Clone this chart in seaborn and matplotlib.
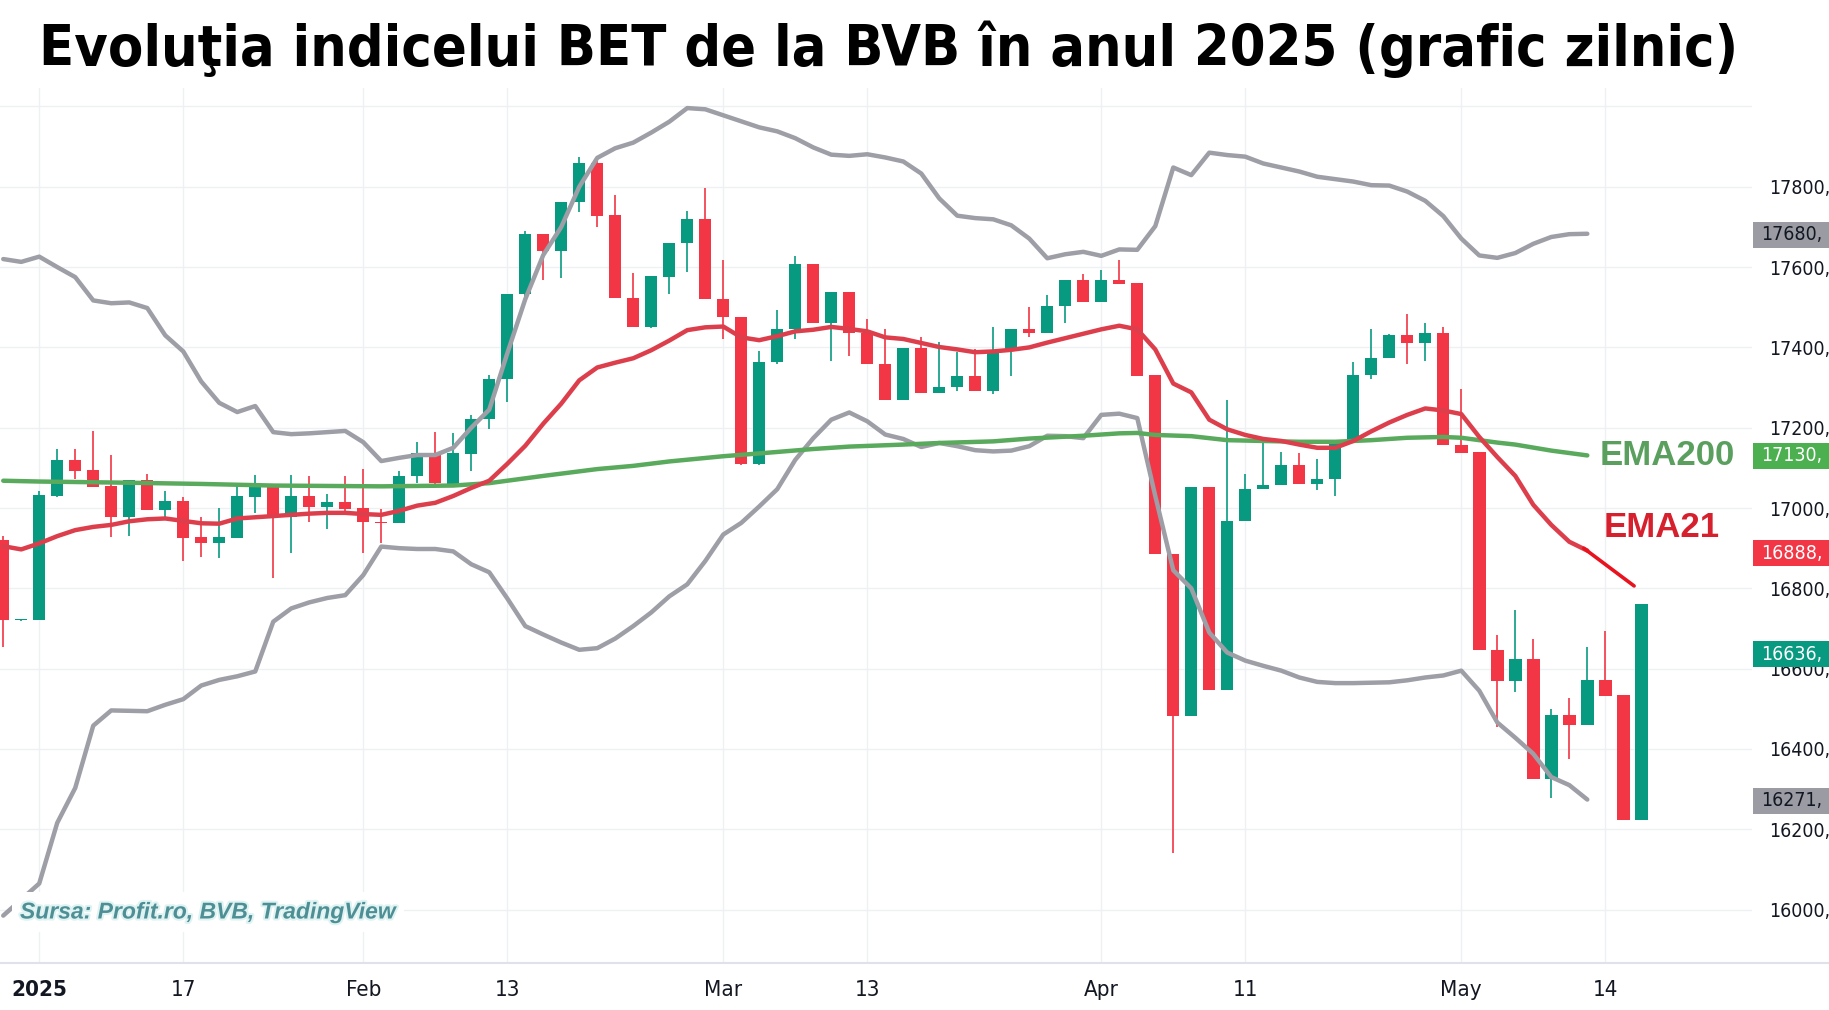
import numpy as np
import pandas as pd
import matplotlib
matplotlib.use("Agg")
import matplotlib.pyplot as plt
import matplotlib.transforms as mtransforms
from matplotlib.patches import Rectangle
from matplotlib.lines import Line2D
from matplotlib import font_manager
from matplotlib.font_manager import FontProperties
import matplotlib.patheffects as pe
import seaborn as sns

# ---------------- data ----------------
bar_idx = list(range(-2, 90))
opens = [16920, 16720, 16721, 17031, 17119, 17095, 17055, 16978, 17070, 16995,
         17017, 16927, 16914, 16926, 17028, 17061, 16977, 17030, 17003, 17014,
         16999, 16966, 16963, 17079, 17138, 17061, 17135, 17221, 17321, 17532,
         17683, 17640, 17761, 17858, 17729, 17523, 17450, 17575, 17661, 17721,
         17521, 17475, 17110, 17363, 17446, 17607, 17462, 17538, 17435, 17359,
         17269, 17398, 17286, 17302, 17330, 17291, 17394, 17445, 17437, 17503,
         17569, 17512, 17567, 17560, 17331, 16885, 16483, 17053, 16547, 16968,
         17047, 17058, 17107, 17061, 17072, 17169, 17331, 17374, 17431, 17410,
         17436, 17156, 17139, 16647, 16569, 16623, 16326, 16485, 16460, 16572,
         16534, 16222]
highs = [16930, 16723, 17043, 17147, 17147, 17192, 17132, 17070, 17084, 17042,
         17028, 16978, 17001, 17055, 17082, 17061, 17082, 17080, 17035, 17080,
         17096, 16997, 17093, 17165, 17190, 17186, 17231, 17331, 17532, 17689,
         17683, 17761, 17873, 17873, 17779, 17586, 17578, 17661, 17739, 17798,
         17618, 17475, 17392, 17492, 17628, 17607, 17538, 17538, 17470, 17445,
         17398, 17427, 17414, 17388, 17396, 17450, 17445, 17501, 17530, 17569,
         17584, 17592, 17617, 17560, 17331, 16885, 17053, 17053, 17270, 17084,
         17177, 17139, 17137, 17122, 17169, 17364, 17445, 17433, 17483, 17462,
         17452, 17296, 17139, 16685, 16747, 16675, 16500, 16528, 16654, 16694,
         16534, 16761]
lows = [16655, 16719, 16721, 17028, 17072, 17053, 16929, 16930, 16995, 16978,
        16868, 16879, 16875, 16926, 16987, 16825, 16889, 16966, 16949, 16991,
        16889, 16914, 16963, 17063, 17061, 17061, 17092, 17196, 17265, 17517,
        17569, 17572, 17737, 17700, 17522, 17450, 17448, 17533, 17588, 17521,
        17421, 17108, 17108, 17358, 17421, 17462, 17365, 17379, 17359, 17269,
        17269, 17286, 17286, 17291, 17291, 17284, 17330, 17426, 17437, 17462,
        17512, 17512, 17559, 17328, 16885, 16141, 16483, 16547, 16547, 16968,
        17047, 17058, 17061, 17046, 17030, 17169, 17321, 17374, 17359, 17365,
        17156, 17137, 16647, 16455, 16542, 16326, 16279, 16374, 16460, 16531,
        16222, 16222]
closes = [16720, 16722, 17032, 17119, 17093, 17053, 16978, 17070, 16995, 17017,
          16926, 16914, 16927, 17030, 17061, 16978, 17030, 17003, 17014, 16997,
          16966, 16963, 17080, 17138, 17062, 17137, 17221, 17321, 17532, 17683,
          17640, 17761, 17858, 17727, 17522, 17450, 17577, 17661, 17721, 17521,
          17475, 17110, 17364, 17446, 17608, 17462, 17538, 17435, 17359, 17269,
          17398, 17286, 17302, 17330, 17291, 17394, 17445, 17437, 17503, 17569,
          17512, 17567, 17559, 17330, 16885, 16483, 17053, 16547, 16968, 17047,
          17058, 17107, 17061, 17072, 17169, 17331, 17374, 17431, 17410, 17436,
          17156, 17137, 16647, 16569, 16623, 16326, 16485, 16460, 16571, 16531,
          16222, 16761]

band_idx = list(range(-2, 87))
bb_upper = [17620, 17613, 17626, 17600, 17575, 17517, 17510, 17512, 17498, 17430,
            17390, 17315, 17262, 17239, 17254, 17189, 17184, 17186, 17189, 17192,
            17164, 17117, 17125, 17132, 17132, 17150, 17200, 17245, 17385, 17520,
            17630, 17700, 17800, 17872, 17896, 17910, 17935, 17962, 17996, 17993,
            17978, 17963, 17948, 17938, 17921, 17898, 17880, 17877, 17881, 17873,
            17863, 17833, 17771, 17728, 17722, 17719, 17704, 17671, 17622, 17632,
            17638, 17628, 17644, 17643, 17702, 17848, 17829, 17885, 17879, 17875,
            17858, 17848, 17838, 17825, 17819, 17813, 17804, 17803, 17788, 17765,
            17727, 17671, 17629, 17623, 17635, 17658, 17675, 17682, 17683]
bb_lower = [15985, 16025, 16065, 16216, 16303, 16458, 16496, 16495, 16494, 16510,
            16524, 16558, 16572, 16581, 16593, 16717, 16750, 16765, 16776, 16783,
            16833, 16904, 16900, 16898, 16898, 16892, 16860, 16840, 16775, 16706,
            16685, 16665, 16647, 16651, 16675, 16706, 16740, 16780, 16810, 16868,
            16934, 16963, 17004, 17047, 17120, 17174, 17220, 17238, 17216, 17183,
            17172, 17152, 17162, 17154, 17144, 17141, 17143, 17154, 17180, 17179,
            17174, 17232, 17235, 17224, 17030, 16845, 16800, 16690, 16640, 16620,
            16607, 16595, 16578, 16567, 16564, 16564, 16565, 16566, 16571, 16578,
            16583, 16595, 16545, 16466, 16428, 16388, 16330, 16310, 16274]
ema21 = [16905, 16897, 16912, 16930, 16945, 16953, 16958, 16967, 16972, 16974,
         16968, 16962, 16961, 16974, 16977, 16980, 16983, 16986, 16988, 16988,
         16985, 16983, 16993, 17006, 17013, 17030, 17050, 17068, 17110, 17155,
         17210, 17260, 17318, 17350, 17362, 17373, 17393, 17417, 17443, 17450,
         17452, 17425, 17418, 17428, 17440, 17444, 17451, 17446, 17440, 17425,
         17421, 17411, 17401, 17395, 17388, 17390, 17394, 17400, 17412, 17423,
         17434, 17445, 17454, 17445, 17395, 17310, 17288, 17220, 17196, 17182,
         17172, 17167, 17158, 17150, 17150, 17167, 17191, 17213, 17232, 17248,
         17243, 17234, 17177, 17127, 17080, 17008, 16958, 16916, 16894]
ema21_ext_idx = [85.8, 88.6]
ema21_ext = [16900, 16806]
ema200_idx = [-2, 0, 5, 9, 13, 19, 23, 25, 28, 31, 33, 35, 38, 40, 43, 45, 48, 50,
              53, 55, 58, 60, 61, 62, 64, 66, 68, 70, 72, 74, 76, 78, 79, 81, 82,
              84, 86]
ema200 = [17068, 17066, 17063, 17060, 17056, 17054, 17056, 17062, 17080, 17097,
          17105, 17116, 17129, 17136, 17147, 17153, 17158, 17162, 17166, 17173,
          17180, 17186, 17187, 17182, 17179, 17169, 17167, 17165, 17165, 17169,
          17175, 17177, 17175, 17163, 17158, 17143, 17131]

tick_pos = [0, 8, 18, 26, 38, 46, 59, 67, 79, 87]
tick_labels = ["2025", "17", "Feb", "13", "Mar", "13", "Apr", "11", "May", "14"]
price_ticks = [16000, 16200, 16400, 16600, 16800, 17000, 17200, 17400, 17600, 17800]
badge_values = [17680, 17130, 16888, 16636, 16271]
badge_colors = ["#9a9ba3", "#4caf50", "#f23645", "#089981", "#9a9ba3"]
badge_text_colors = ["#131722", "#ffffff", "#ffffff", "#ffffff", "#131722"]

title = "Evoluţia indicelui BET de la BVB în anul 2025 (grafic zilnic)"
source = "Sursa: Profit.ro, BVB, TradingView"

# ---------------- style ----------------
sns.set_style("white")
plt.rcParams['font.family'] = ['Liberation Sans', 'DejaVu Sans']


def find_condensed(bold=True):
    best = None
    for f in font_manager.fontManager.ttflist:
        name = f.name.lower()
        stretch = str(f.stretch).lower()
        is_cond = ("condensed" in stretch or "narrow" in name or "condensed" in name
                   or "condensed" in f.fname.lower() or "narrow" in f.fname.lower())
        if not is_cond:
            continue
        w = f.weight if isinstance(f.weight, int) else (700 if "bold" in str(f.weight) else 400)
        if "italic" in str(f.style).lower() or "oblique" in str(f.style).lower():
            continue
        score = abs(w - (700 if bold else 400))
        if best is None or score < best[0]:
            best = (score, f.fname)
    return best[1] if best else None


cond_bold = find_condensed(True)
cond_reg = find_condensed(False)
title_fp = (FontProperties(fname=cond_bold) if cond_bold
            else FontProperties(family=['Liberation Sans'], weight='bold'))
tick_fp = (FontProperties(fname=cond_reg) if cond_reg
           else FontProperties(family=['Liberation Sans']))
price_fp = tick_fp.copy()
price_fp.set_size(14 if cond_reg else 12.5)

UP = "#089981"
DOWN = "#f23645"

W, H = 1829, 1010
fig = plt.figure(figsize=(W / 100, H / 100), dpi=100)
ax_left, ax_right, ax_bottom, ax_top = 0, 1752, 963, 88
ax = fig.add_axes([ax_left / W, 1 - ax_bottom / H, (ax_right - ax_left) / W,
                   (ax_bottom - ax_top) / H])
ax.set_xlim(-2.18, 95.15)
ax.set_ylim(15867, 18046)

# grid
ax.set_yticks(price_ticks + [18000])
ax.set_yticklabels([f"{v}," for v in price_ticks] + [""])
ax.set_xticks(tick_pos)
ax.set_xticklabels(tick_labels)
ax.grid(True, color="#eef0f3", linewidth=1.0, zorder=0)
ax.set_axisbelow(True)
for s in ax.spines.values():
    s.set_visible(False)
ax.tick_params(axis="y", left=False, labelleft=False, right=False, labelright=True,
               pad=9, labelcolor="#131722")
for lab in ax.get_yticklabels():
    lab.set_fontproperties(price_fp)
ax.tick_params(axis="x", length=0, pad=12, labelcolor="#131722")
for k, lab in enumerate(ax.get_xticklabels()):
    fp = tick_fp.copy()
    fp.set_size(16)
    if k == 0 and cond_bold:
        fp = FontProperties(fname=cond_bold, size=16)
    elif k == 0:
        fp.set_weight("bold")
    lab.set_fontproperties(fp)

# candles
df = pd.DataFrame({"i": bar_idx, "o": opens, "h": highs, "l": lows, "c": closes})
df["color"] = np.where(df["c"] >= df["o"], UP, DOWN)
df["bottom"] = df[["o", "c"]].min(axis=1)
df["height"] = (df["c"] - df["o"]).abs().clip(lower=3)
ax.vlines(df["i"], df["l"], df["h"], colors=df["color"], linewidth=1.2, zorder=3)
ax.bar(df["i"], df["height"], bottom=df["bottom"], width=0.69, color=df["color"],
       linewidth=0, zorder=3)

# indicator lines
sns.lineplot(x=band_idx, y=bb_upper, ax=ax, color="#9d9ea6", linewidth=3.2,
             sort=False, legend=False, zorder=4)
sns.lineplot(x=band_idx, y=bb_lower, ax=ax, color="#9d9ea6", linewidth=3.2,
             sort=False, legend=False, zorder=4)
sns.lineplot(x=ema200_idx, y=ema200, ax=ax, color="#59aa5c", linewidth=3.2,
             sort=False, legend=False, zorder=5)
sns.lineplot(x=band_idx, y=ema21, ax=ax, color="#dc3f4b", linewidth=3.2,
             sort=False, legend=False, zorder=5)
sns.lineplot(x=ema21_ext_idx, y=ema21_ext, ax=ax, color="#e8131f", linewidth=2.6,
             sort=False, legend=False, zorder=5)

# EMA labels
ax.text(86.7, ema200[-1], "EMA200", ha="left", va="center", fontsize=25,
        fontweight="bold", color="#5a9f5e", zorder=6)
ax.text(86.9, 16952, "EMA21", ha="left", va="center", fontsize=25,
        fontweight="bold", color="#d6202d", zorder=6)

# price badges
blend = mtransforms.blended_transform_factory(ax.transAxes, ax.transData)
for v, bc, tc in zip(badge_values, badge_colors, badge_text_colors):
    ax.add_patch(Rectangle((1.0005, v - 32), 0.06, 64, transform=blend,
                           facecolor=bc, edgecolor="none", clip_on=False, zorder=10))
    ax.text(1.0 + 9 / 1752, v, f"{v},", transform=blend, ha="left", va="center",
            fontproperties=price_fp, color=tc, clip_on=False, zorder=11)

# bottom separator
fig.add_artist(Line2D([0, 1], [1 - ax_bottom / H] * 2, color="#dfe2e8", linewidth=1.5))

# source text
fig.text(20 / W, 1 - 912 / H, source, ha="left", va="center", fontsize=16.5,
         fontstyle="italic", fontweight="bold", color="#4e8f95",
         bbox=dict(facecolor="white", edgecolor="none", pad=6),
         path_effects=[pe.withStroke(linewidth=3, foreground="#dff3f3")], zorder=12)

# title, fitted to the reference width (and capped by the reference height)
title_fp.set_size(40)
t = fig.text(889 / W, 1 - 49 / H, title, ha="center", va="center",
             fontproperties=title_fp, color="black")
fig.canvas.draw()
w = t.get_window_extent().width
title_fp.set_size(min(53, 40 * 1697 / w))
t.set_fontproperties(title_fp)

fig.savefig("out.png", dpi=100, facecolor="white")
